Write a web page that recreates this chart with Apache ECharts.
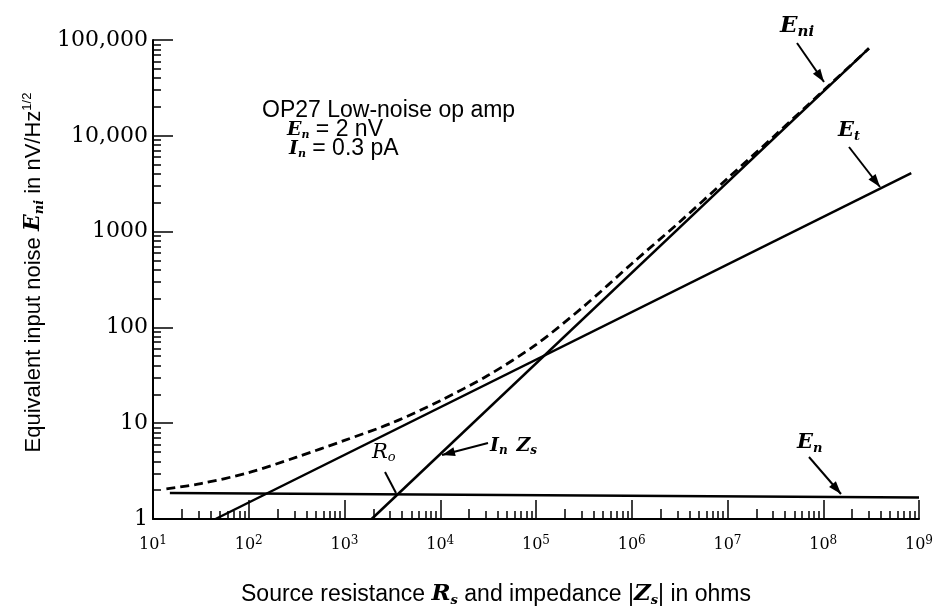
<!DOCTYPE html>
<html><head><meta charset="utf-8">
<script src="https://cdn.jsdelivr.net/npm/echarts@6/dist/echarts.min.js"></script>
<style>html,body{margin:0;padding:0;background:#fff}#c{width:947px;height:609px}</style>
</head><body><div id="c"></div>
<script>
// ---- data ----
const xExponents = [1, 2, 3, 4, 5, 6, 7, 8, 9];
const yTickLabels = ['1', '10', '100', '1000', '10,000', '100,000'];
const enData   = [[15, 1.87], [1e9, 1.68]];
const etData   = [[45, 1], [8.3e8, 4070]];
const inZsData = [[1920, 1], [3.0e8, 81800]];
const eniData  = [[13.8, 2.06], [31.6, 2.34], [100, 3.05], [316, 4.42], [1000, 6.61], [3160, 10.1],
  [10000, 17.2], [31600, 31.6], [100000, 66.1], [316000, 166], [1e6, 462], [3.16e6, 1260],
  [1e7, 3590], [3.16e7, 10200], [1e8, 29500], [3.0e8, 81800]];

const SERIF = 'DejaVu Serif';
const SANS = 'Liberation Sans';
const xMajor = xExponents.map(e => Math.pow(10, e));
const yMajor = yTickLabels.map((t, i) => Math.pow(10, i));
const xMinor = [], xMid = [], yMinor = [];
for (let e = 1; e < 9; e++) for (let m = 3; m <= 9; m++) xMinor.push(m * Math.pow(10, e));
for (let e = 1; e < 9; e++) xMid.push(2 * Math.pow(10, e));
for (let e = 0; e < 5; e++) for (let m = 2; m <= 9; m++) yMinor.push(m * Math.pow(10, e));

function arrow(x1, y1, x2, y2, head) {
  const els = [{ type: 'line', shape: { x1, y1, x2, y2 }, style: { stroke: '#000', lineWidth: 2 }, silent: true }];
  if (head) {
    const dx = x2 - x1, dy = y2 - y1, L = Math.hypot(dx, dy), ux = dx / L, uy = dy / L;
    const hl = 13, hw = 4.5;
    const bx = x2 - ux * hl, by = y2 - uy * hl;
    els.push({ type: 'polygon', shape: { points: [[x2, y2], [bx - uy * hw, by + ux * hw], [bx + uy * hw, by - ux * hw]] }, style: { fill: '#000' }, silent: true });
  }
  return els;
}
function lbl(x, y, text, rich) {
  return { type: 'text', x: x, y: y, silent: true, style: { text, rich, verticalAlign: 'middle', align: 'left', fill: '#000' } };
}
const itb = (fs) => ({ fontFamily: SERIF, fontStyle: 'italic', fontWeight: 'bold', fontSize: fs, color: '#000' });
const subb = (fs, pad) => ({ fontFamily: SERIF, fontStyle: 'italic', fontWeight: 'bold', fontSize: fs, color: '#000', padding: [pad, 0, 0, 0] });
const sans = (fs) => ({ fontFamily: SANS, fontSize: fs, color: '#000' });

const tickStyle = { color: '#000', width: 1.5 };
const chart = echarts.init(document.getElementById('c'), null, { renderer: 'canvas' });
const lineBase = { type: 'line', showSymbol: false, symbol: 'none', silent: true, animation: false, xAxisIndex: 0, yAxisIndex: 0 };
const xMinorAxis = (vals, len) => ({
  type: 'log', logBase: 10, min: 10, max: 1e9, position: 'bottom',
  axisLine: { show: false }, axisLabel: { show: false }, splitLine: { show: false },
  axisTick: { show: true, inside: true, length: len, customValues: vals, lineStyle: tickStyle }
});
chart.setOption({
  backgroundColor: '#fff',
  animation: false,
  grid: { left: 153, right: 28, top: 40, bottom: 90, containLabel: false, outerBoundsMode: 'none' },
  xAxis: [{
    type: 'log', logBase: 10, min: 10, max: 1e9, interval: 1, position: 'bottom',
    axisLine: { show: true, lineStyle: { color: '#000', width: 2 } },
    axisTick: { show: true, inside: true, length: 19, customValues: xMajor, lineStyle: tickStyle },
    axisLabel: {
      margin: 16, customValues: xMajor,
      formatter: v => '{b|10}{s|' + xExponents[xMajor.findIndex(m => Math.abs(Math.log10(m) - Math.log10(v)) < 1e-6)] + '}',
      rich: { b: { fontFamily: SERIF, fontSize: 16, color: '#000' }, s: { fontFamily: SERIF, fontSize: 12, color: '#000', padding: [0, 0, 8, 0] } }
    },
    splitLine: { show: false },
    name: 'Source resistance {it|R}{sub|s} and impedance |{it|Z}{sub|s}| in ohms',
    nameLocation: 'middle', nameGap: 63,
    nameTextStyle: {
      fontFamily: SANS, fontSize: 23, color: '#000', padding: [0, 80, 0, 0],
      rich: { it: itb(23), sub: subb(13, 12) }
    }
  }, xMinorAxis(xMinor, 8), xMinorAxis(xMid, 10)],
  yAxis: [{
    type: 'log', logBase: 10, min: 1, max: 1e5, interval: 1, position: 'left',
    axisLine: { show: true, lineStyle: { color: '#000', width: 2 } },
    axisTick: { show: true, inside: true, length: 20, customValues: yMajor, lineStyle: tickStyle },
    axisLabel: {
      margin: 5, customValues: yMajor, fontFamily: SERIF, fontSize: 22, color: '#000',
      formatter: v => yTickLabels[Math.round(Math.log10(v))]
    },
    splitLine: { show: false },
    name: 'Equivalent input noise {it|E}{sub|ni} in nV/Hz{sup|1/2}',
    nameLocation: 'middle', nameGap: 100,
    nameTextStyle: {
      fontFamily: SANS, fontSize: 22, color: '#000', padding: [0, 0, 0, 14],
      rich: { it: itb(22), sub: subb(13, 12), sup: { fontFamily: SANS, fontSize: 13, color: '#000', padding: [0, 0, 12, 0] } }
    }
  }, {
    type: 'log', logBase: 10, min: 1, max: 1e5, position: 'left',
    axisLine: { show: false }, axisLabel: { show: false }, splitLine: { show: false },
    axisTick: { show: true, inside: true, length: 8, customValues: yMinor, lineStyle: tickStyle }
  }],
  series: [
    Object.assign({}, lineBase, { name: 'En', data: enData, lineStyle: { color: '#000', width: 2.5 } }),
    Object.assign({}, lineBase, { name: 'Et', data: etData, lineStyle: { color: '#000', width: 2.5 } }),
    Object.assign({}, lineBase, { name: 'InZs', data: inZsData, lineStyle: { color: '#000', width: 2.5 } }),
    Object.assign({}, lineBase, { name: 'Eni', data: eniData, smooth: 0.3, lineStyle: { color: '#000', width: 2.8, type: [9, 5] } })
  ],
  graphic: [
    lbl(262, 111, '{t|OP27 Low-noise op amp}', { t: sans(23) }),
    lbl(287, 130, '{it|E}{sub|n}{t| = 2 nV}', { it: itb(19), sub: subb(11, 10), t: sans(23) }),
    lbl(289, 149, '{it|I}{sub|n}{t| = 0.3 pA}', { it: itb(19), sub: subb(11, 10), t: sans(23) }),
    lbl(780, 26, '{it|E}{sub|ni}', { it: itb(23), sub: subb(15, 12) }),
    ...arrow(797, 43, 824, 82, true),
    lbl(838, 131, '{it|E}{sub|t}', { it: itb(21), sub: subb(13, 11) }),
    ...arrow(849, 147, 880, 187, true),
    lbl(797, 443, '{it|E}{sub|n}', { it: itb(21), sub: subb(13, 11) }),
    ...arrow(809, 457, 841, 494, true),
    lbl(372, 453, '{it|R}{sub|o}', { it: { fontFamily: SERIF, fontStyle: 'italic', fontSize: 21, color: '#000' }, sub: { fontFamily: SERIF, fontStyle: 'italic', fontSize: 13, color: '#000', padding: [10, 0, 0, 0] } }),
    ...arrow(385, 472, 396, 493, false),
    lbl(490, 446, '{it|I}{sub|n}{sp|  }{it|Z}{sub|s}', { it: itb(19), sub: subb(12, 10), sp: sans(16) }),
    ...arrow(488, 443, 442, 455, true)
  ]
});
</script>
</body></html>
